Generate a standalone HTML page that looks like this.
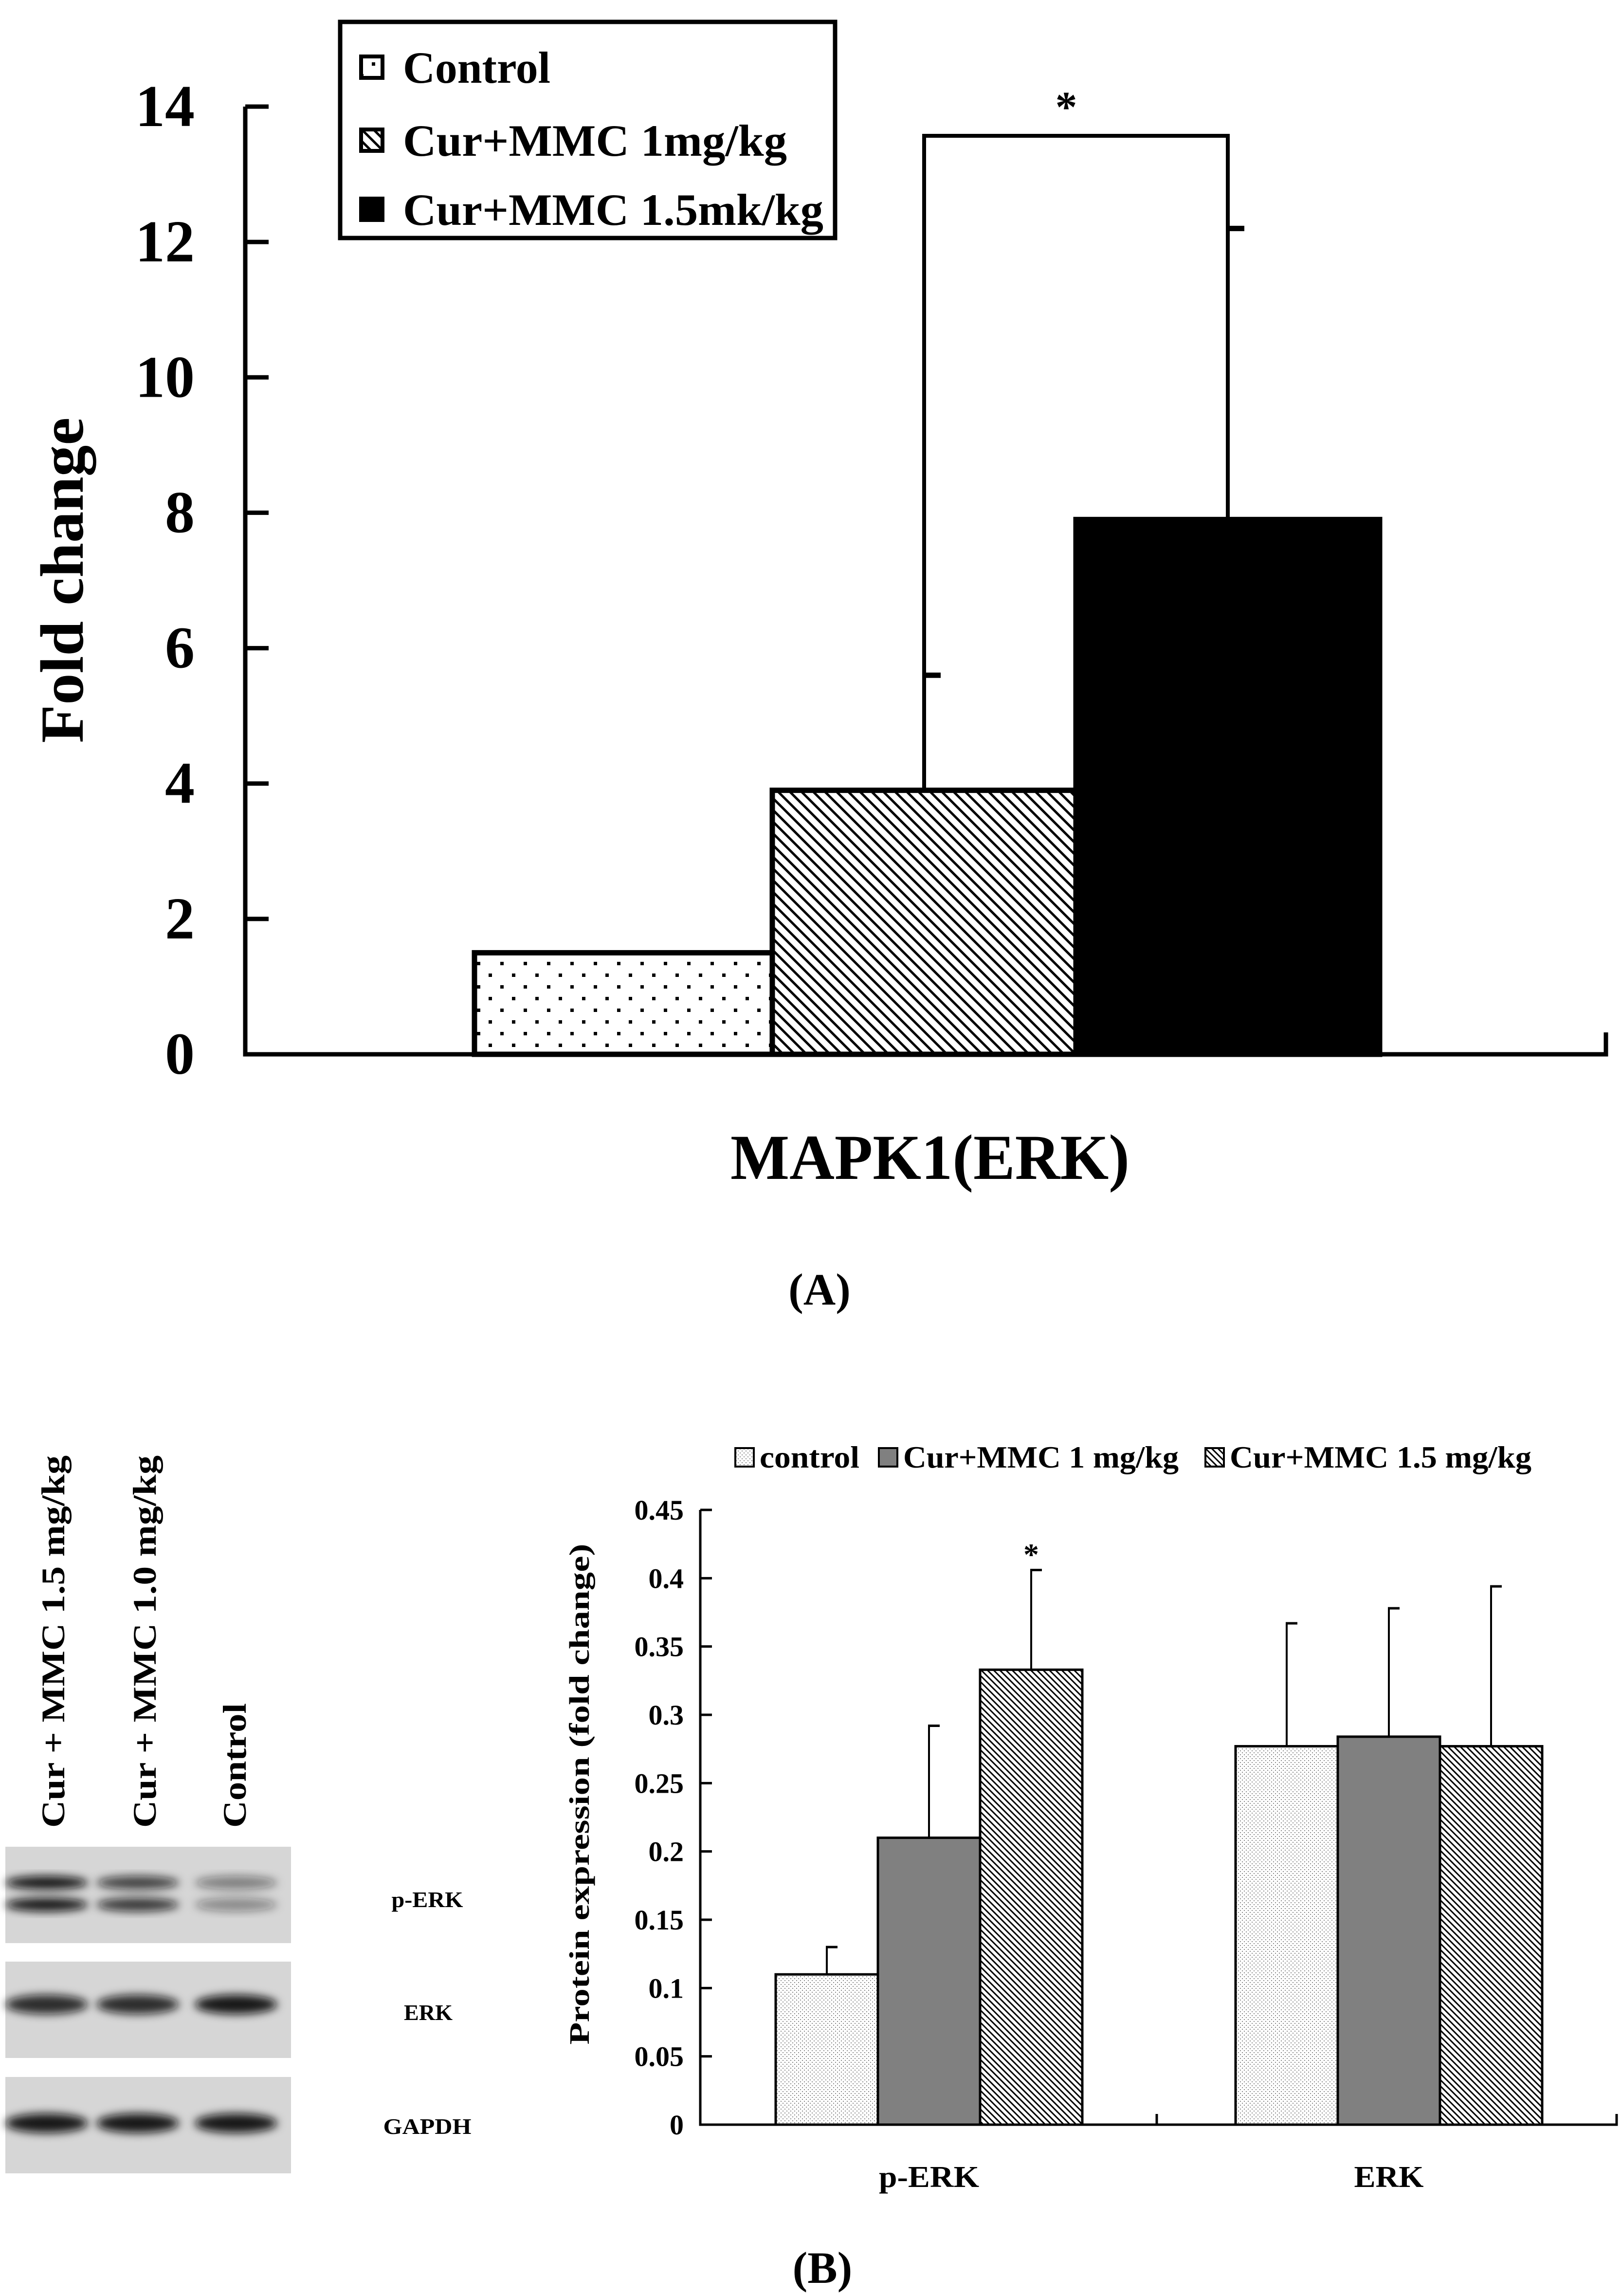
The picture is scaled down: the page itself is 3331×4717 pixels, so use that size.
<!DOCTYPE html>
<html><head><meta charset="utf-8"><style>
html,body{margin:0;padding:0;background:#fff;}
svg{display:block;}
text{font-family:"Liberation Serif","DejaVu Serif",serif;font-weight:bold;fill:#000;}
</style></head><body>
<svg id="fig" xmlns="http://www.w3.org/2000/svg" width="3331" height="4717" viewBox="0 0 3331 4717">
<defs>
<pattern id="dotsA" patternUnits="userSpaceOnUse" width="48" height="48"><rect x="20" y="8" width="7" height="7" fill="#000"/><rect x="44" y="32" width="7" height="7" fill="#000"/><rect x="-4" y="32" width="7" height="7" fill="#000"/></pattern>
<pattern id="hatchA" patternUnits="userSpaceOnUse" width="17" height="17" patternTransform="rotate(45)"><rect width="17" height="17" fill="#fff"/><rect x="0" y="0" width="17" height="5" fill="#000"/></pattern>
<pattern id="dotsB" patternUnits="userSpaceOnUse" width="8" height="8"><rect width="8" height="8" fill="#fff"/><rect x="0" y="0" width="2" height="2" fill="#888"/><rect x="4" y="4" width="2" height="2" fill="#888"/></pattern>
<pattern id="hatchB" patternUnits="userSpaceOnUse" width="9" height="9" patternTransform="rotate(45)"><rect width="9" height="9" fill="#fff"/><rect x="0" y="0" width="9" height="3" fill="#000"/></pattern>
<filter id="blur" x="-20%" y="-50%" width="140%" height="200%"><feGaussianBlur stdDeviation="9"/></filter>
</defs>
<g id="chartA"></g>
<g id="chartB"></g>
<g id="blots"></g>
</svg>
<script>
// ---- Chart A data ----
const catsA = ["Control","Cur+MMC 1mg/kg","Cur+MMC 1.5mk/kg"];
const valsA = [1.5, 3.9, 7.9];
const errA = [null, 5.6, 12.2];
const ticksA = [0,2,4,6,8,10,12,14];
// ---- Chart B data ----
const groupsB = ["p-ERK","ERK"];
const seriesB = ["control","Cur+MMC 1 mg/kg","Cur+MMC 1.5 mg/kg"];
const valsBctrl = [0.11, 0.277];
const valsBmmc1 = [0.21, 0.284];
const valsBmmc15 = [0.333, 0.277];
const errBctrl = [0.13, 0.367];
const errBmmc1 = [0.292, 0.378];
const errBmmc15 = [0.406, 0.394];
const ticksB = ["0","0.05","0.1","0.15","0.2","0.25","0.3","0.35","0.4","0.45"];

const NS="http://www.w3.org/2000/svg";
function mk(parent,tag,attrs,txt){const e=document.createElementNS(NS,tag);for(const k in attrs)e.setAttribute(k,attrs[k]);if(txt!==undefined)e.textContent=txt;parent.appendChild(e);return e;}
const SG='spacingAndGlyphs';

// ===== Chart A =====
const A=document.getElementById('chartA');
const axA={x0:504,x1:3300,y0:2166,y14:219};
function yA(v){return axA.y0-(v/14)*(axA.y0-axA.y14);}
const barXA=[975,1587,2211], barWA=[612,624,624];
const fillsA=["url(#dotsA)","url(#hatchA)","#000"];
let el;
for(let i=0;i<ticksA.length;i++){
  const y=yA(ticksA[i]);
  el=mk(A,'line',{x1:axA.x0,x2:axA.x0+48,y1:y,y2:y,stroke:'#000','stroke-width':9});
  
  
  el=mk(A,'text',{x:400,y:y+40,'text-anchor':'end','font-size':122},String(ticksA[i]));
  
  
}
for(let i=0;i<valsA.length;i++){
  const y=yA(valsA[i]);
  el=mk(A,'rect',{x:barXA[i],y:y,width:barWA[i],height:axA.y0-y,fill:fillsA[i],stroke:'#000','stroke-width':11});
  
  
  if(errA[i]!==null){
    const cx=barXA[i]+barWA[i]/2, ye=yA(errA[i]);
    el=mk(A,'line',{x1:cx,x2:cx,y1:y,y2:ye,stroke:'#000','stroke-width':8});
    
    
    el=mk(A,'line',{x1:cx-4,x2:cx+34,y1:ye,y2:ye,stroke:'#000','stroke-width':11});
    
    
  }
}
{const xl=barXA[1]+barWA[1]/2, xr=barXA[2]+barWA[2]/2, yb=279;
el=mk(A,'path',{d:`M${xl} ${yA(errA[1])} L${xl} ${yb} L${xr} ${yb} L${xr} ${yA(errA[2])}`,fill:'none',stroke:'#000','stroke-width':8});


el=mk(A,'text',{x:(xl+xr)/2-20,y:250,'text-anchor':'middle','font-size':90,'font-weight':'normal'},'*');

}
el=mk(A,'path',{d:`M${axA.x0} ${axA.y14} L${axA.x0} ${axA.y0} L${axA.x1} ${axA.y0} L${axA.x1} ${axA.y0-45}`,fill:'none',stroke:'#000','stroke-width':9});


el=mk(A,'text',{x:0,y:0,'text-anchor':'middle','font-size':126,textLength:669,lengthAdjust:SG,transform:'translate(170,1192) rotate(-90)'},'Fold change');


el=mk(A,'text',{x:1911,y:2422,'text-anchor':'middle','font-size':132,textLength:820,lengthAdjust:SG},'MAPK1(ERK)');


el=mk(A,'text',{x:1684,y:2680,'text-anchor':'middle','font-size':92},'(A)');


el=mk(A,'rect',{x:699,y:45,width:1017,height:444,fill:'#fff',stroke:'#000','stroke-width':9});


const legYA=[138,288,430], legWA=[303,789,864];
for(let i=0;i<catsA.length;i++){
  el=mk(A,'rect',{x:742,y:legYA[i]-22,width:44,height:44,fill:fillsA[i],stroke:'#000','stroke-width':8});
  
  
  el=mk(A,'text',{x:828,y:legYA[i]+32,'font-size':92,textLength:legWA[i],lengthAdjust:SG},catsA[i]);
  
  
}

// ===== Chart B =====
const B=document.getElementById('chartB');
const axB={x0:1439,x1:3322,y0:4365,ytop:3102,vmax:0.45};
function yB(v){return axB.y0-(v/axB.vmax)*(axB.y0-axB.ytop);}
const groupX0=[1594,2539], barWB=210;
const fillsB=["url(#dotsB)","#808080","url(#hatchB)"];
const valsB=[valsBctrl,valsBmmc1,valsBmmc15], errB=[errBctrl,errBmmc1,errBmmc15];
for(let i=0;i<ticksB.length;i++){
  const y=yB(parseFloat(ticksB[i]));
  el=mk(B,'line',{x1:axB.x0,x2:axB.x0+24,y1:y,y2:y,stroke:'#000','stroke-width':5});
  
  
  el=mk(B,'text',{x:1405,y:y+20,'text-anchor':'end','font-size':58},ticksB[i]);
  
  
}
for(let g=0;g<groupsB.length;g++){
  for(let s=0;s<3;s++){
    const x=groupX0[g]+s*barWB, y=yB(valsB[s][g]);
    el=mk(B,'rect',{x:x,y:y,width:barWB,height:axB.y0-y,fill:fillsB[s],stroke:'#000','stroke-width':5});
    
    
    const cx=x+barWB/2, ye=yB(errB[s][g]);
    el=mk(B,'line',{x1:cx,x2:cx,y1:y,y2:ye,stroke:'#000','stroke-width':4});
    
    
    el=mk(B,'line',{x1:cx-2,x2:cx+22,y1:ye,y2:ye,stroke:'#000','stroke-width':5});
    
    
  }
  el=mk(B,'text',{x:groupX0[g]+1.5*barWB,y:4493,'text-anchor':'middle','font-size':62,textLength:g==0?206:143,lengthAdjust:SG},groupsB[g]);
  
  
}
el=mk(B,'text',{x:(groupX0[0]+2.5*barWB),y:3215,'text-anchor':'middle','font-size':64},'*');


el=mk(B,'path',{d:`M${axB.x0} ${axB.ytop} L${axB.x0} ${axB.y0} L${axB.x1} ${axB.y0} L${axB.x1} ${axB.y0-22} M2377 ${axB.y0} L2377 ${axB.y0-22}`,fill:'none',stroke:'#000','stroke-width':5});


el=mk(B,'text',{x:0,y:0,'text-anchor':'middle','font-size':58,textLength:1029,lengthAdjust:SG,transform:'translate(1210,3686) rotate(-90)'},'Protein expression (fold change)');


const legXB=[1511,1806,2477], legTW=[205,566,620];
for(let s=0;s<3;s++){
  el=mk(B,'rect',{x:legXB[s],y:2975,width:38,height:38,fill:fillsB[s],stroke:'#000','stroke-width':4});
  
  
  el=mk(B,'text',{x:legXB[s]+50,y:3015,'font-size':64,textLength:legTW[s],lengthAdjust:SG},seriesB[s]);
  
  
}
el=mk(B,'text',{x:1690,y:4690,'text-anchor':'middle','font-size':92},'(B)');



// ===== Blots =====
const W=document.getElementById('blots');
const laneNames=["Cur + MMC 1.5 mg/kg","Cur + MMC 1.0 mg/kg","Control"];
const laneX=[96,283,485];
const laneTextX=[132,320,505], laneLen=[765,765,256];
for(let i=0;i<3;i++){
  el=mk(W,'text',{x:0,y:0,'font-size':68,textLength:laneLen[i],lengthAdjust:SG,transform:`translate(${laneTextX[i]},3755) rotate(-90)`},laneNames[i]);
  
  
}
const blotY=[3794,4030,4267];
const blotNames=["p-ERK","ERK","GAPDH"];
const blotLabelX=[878,880,878], blotLabelY=[3918,4150,4384], blotLabelW=[147,100,181];
const bandSpec=[
  [[3868,[0.95,0.75,0.45]],[3913,[0.95,0.8,0.4]]],
  [[4118,[0.85,0.85,0.95]]],
  [[4362,[0.95,0.95,0.95]]]
];
for(let b=0;b<3;b++){
  el=mk(W,'rect',{x:11,y:blotY[b],width:587,height:198,fill:'#d6d6d6'});
  
  
  for(const [by,ints] of bandSpec[b]){
    for(let l=0;l<3;l++){
      el=mk(W,'ellipse',{cx:laneX[l],cy:by,rx:85,ry:b==0?14:20,fill:'#111','fill-opacity':ints[l],filter:'url(#blur)'});
      
      
    }
  }
  el=mk(W,'text',{x:blotLabelX[b],y:blotLabelY[b],'text-anchor':'middle','font-size':46,'font-weight':'normal',textLength:blotLabelW[b],lengthAdjust:SG},blotNames[b]);
  
  
}
</script>
</body></html>
